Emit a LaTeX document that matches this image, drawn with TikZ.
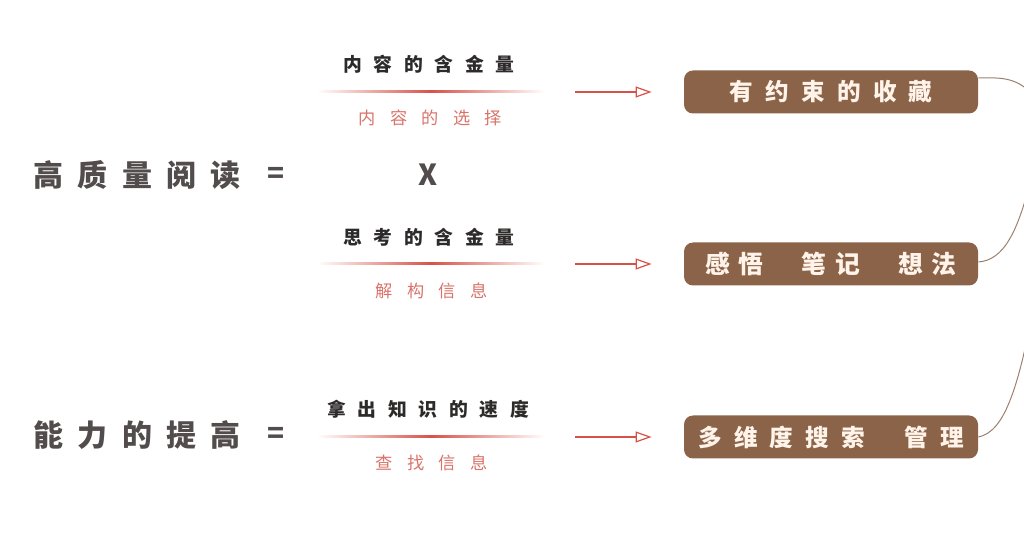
\documentclass[tikz,border=0pt]{standalone}
\usepackage{fontspec}
\usepackage{tikz}
\usetikzlibrary{arrows.meta, positioning, calc}

\newfontfamily\titlefont{Noto Sans CJK SC}[LetterSpace=48]
\newfontfamily\smallfont{Noto Sans CJK SC}[LetterSpace=62]
\newfontfamily\subfont{Noto Sans CJK SC}[LetterSpace=84]
\newfontfamily\boxfont{Noto Sans CJK SC}[LetterSpace=52]
\newfontfamily\tightfont{Noto Sans CJK SC}[LetterSpace=36]
\newfontfamily\plainfont{Noto Sans CJK SC}

\definecolor{boxbrown}{RGB}{139,99,72}
\definecolor{boxtext}{RGB}{255,243,234}
\definecolor{lineRed}{RGB}{214,82,72}
\definecolor{subRed}{RGB}{217,115,106}
\definecolor{darkText}{RGB}{45,42,42}
\definecolor{titleText}{RGB}{82,76,76}
\definecolor{curveBrown}{RGB}{156,128,112}

\tikzset{
  title/.style={anchor=west, inner sep=0pt, text=titleText,
    font=\titlefont\bfseries\fontsize{15}{18}\selectfont},
  equal/.style={inner sep=0pt, text=titleText,
    font=\plainfont\bfseries\fontsize{14}{17}\selectfont},
  upper/.style={anchor=west, inner sep=0pt, text=darkText,
    font=\smallfont\bfseries\fontsize{9.4}{12}\selectfont},
  lower/.style={anchor=west, inner sep=0pt, text=subRed,
    font=\subfont\fontsize{8.6}{11}\selectfont},
  gline/.style={inner sep=0pt, minimum width=114pt, minimum height=1pt,
    shading=axis, left color=white, right color=white, middle color=lineRed},
  arr/.style={-{Triangle[open, length=8pt, width=5.5pt]}, lineRed, line width=0.6pt,
    shorten <=15pt, shorten >=16pt},
  brownbox/.style={fill=boxbrown, rounded corners=4.5pt, minimum width=147pt,
    minimum height=21.5pt, inner sep=0pt, text=boxtext,
    font=\boxfont\bfseries\fontsize{11.8}{14}\selectfont},
  link/.style={curveBrown, line width=0.5pt}
}

\begin{document}
\begin{tikzpicture}[x=0.5pt, y=-0.5pt]
\useasboundingbox (0,0) rectangle (1024,534);
\clip (0,0) rectangle (1024,534);

% left side
\node[title] (read) at (33,175) {高质量阅读};
\node[equal] (eq1) at (276,175) {=};
\node[equal, font=\plainfont\bfseries\fontsize{14.5}{17}\selectfont] (times) at (428,175) {X};
\node[title] (ability) at (33,435) {能力的提高};
\node[equal] (eq2) at (276,435) {=};

% first row
\node[upper] (up1) at (343,64) {内容的含金量};
\node[gline] (l1) at (431,92) {};
\node[lower] (lo1) at (358,118) {内容的选择};
\node[brownbox] (box1) at (831,92) {有约束的收藏};
\draw[arr] (l1.east) -- (box1.west);

% second row
\node[upper] (up2) at (343,237) {思考的含金量};
\node[gline] (l2) at (431,264) {};
\node[lower] (lo2) at (375,291) {解构信息};
\node[brownbox, font=\tightfont\bfseries\fontsize{12.4}{14}\selectfont] (box2) at (831,264)
  {\hbox{感悟}\hskip19pt\hbox{笔记}\hskip19pt\hbox{想法}};
\draw[arr] (l2.east) -- (box2.west);

% third row
\node[upper] (up3) at (327,409) {拿出知识的速度};
\node[gline] (l3) at (431,437) {};
\node[lower] (lo3) at (375,463) {查找信息};
\node[brownbox] (box3) at (831,437) {\hbox{多维度搜索}\hskip19.5pt\hbox{管理}};
\draw[arr] (l3.east) -- (box3.west);

% links to the right
\coordinate (h1) at (1040,102);
\coordinate (h2) at (1032,175);
\coordinate (h3) at (1034,305);
\draw[link] ([yshift=7pt]box1.east) .. controls (1008,77) and (1020,79) .. (h1);
\draw[link] ([yshift=1pt]box2.east) .. controls (1004,260) and (1018,232) .. (h2);
\draw[link] (box3.east) .. controls (1004,432) and (1018,390) .. (h3);
\end{tikzpicture}
\end{document}
